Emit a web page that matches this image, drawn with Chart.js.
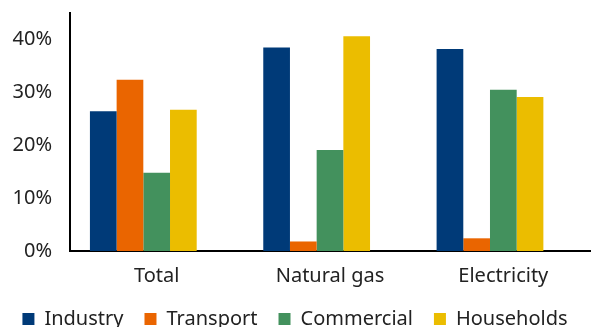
<!DOCTYPE html>
<html lang="en">
<head>
  <meta charset="UTF-8">
  <title>Energy use by sector</title>
  <script src="https://cdn.jsdelivr.net/npm/chart.js"></script>
  <style>
    body {
      margin: 0;
      background: #fff;
    }
    .wrap {
      width: 600px;
      height: 327px;
    }
  </style>
</head>
<body>
  <div class="wrap"><canvas id="barChart"></canvas></div>

  <script>
    const categories = ['Total', 'Natural gas', 'Electricity'];
    const industry = [26.4, 38.5, 38.2];
    const transport = [32.4, 1.8, 2.4];
    const commercial = [14.8, 19.1, 30.5];
    const households = [26.7, 40.6, 29.1];
    const yTicks = [0, 10, 20, 30, 40];

    const fontFamily = '"Noto Sans", "DejaVu Sans", sans-serif';

    const ctx = document.getElementById('barChart').getContext('2d');
    const chart = new Chart(ctx, {
      type: 'bar',
      data: {
        labels: categories,
        datasets: [
          { label: 'Industry', data: industry, backgroundColor: '#003a78' },
          { label: 'Transport', data: transport, backgroundColor: '#ea6500' },
          { label: 'Commercial', data: commercial, backgroundColor: '#43915d' },
          { label: 'Households', data: households, backgroundColor: '#ebbd00' },
          // empty slot, the original chart leaves a fifth bar position blank
          { label: '', data: [null, null, null], backgroundColor: 'rgba(0,0,0,0)' }
        ]
      },
      options: {
        responsive: true,
        maintainAspectRatio: false,
        animation: false,
        layout: { padding: { top: 13, right: 10, left: 0, bottom: 0 } },
        datasets: {
          bar: { categoryPercentage: 0.77, barPercentage: 1 }
        },
        plugins: {
          tooltip: { enabled: false },
          legend: {
            position: 'bottom',
            maxHeight: 39,
            labels: {
              color: '#222',
              font: { family: fontFamily, size: 20 },
              boxWidth: 12,
              boxHeight: 12,
              padding: 21,
              filter: (item) => item.text !== ''
            }
          }
        },
        scales: {
          x: {
            grid: { display: false, drawTicks: true, tickLength: 13 },
            border: { display: true, color: '#000', width: 2 },
            ticks: {
              color: '#222',
              font: { family: fontFamily, size: 20 },
              padding: 0
            }
          },
          y: {
            min: 0,
            max: 45,
            afterBuildTicks: (scale) => {
              scale.ticks = yTicks.map(v => ({ value: v }));
            },
            afterFit: (scale) => {
              scale.width = 70;
            },
            // invisible tick marks give the gap between labels and axis
            grid: { display: false, drawTicks: true, tickLength: 18 },
            border: { display: true, color: '#000', width: 2 },
            ticks: {
              color: '#222',
              font: { family: fontFamily, size: 20 },
              padding: 0,
              callback: (v) => v + '%'
            }
          }
        }
      }
    });
  </script>
</body>
</html>
